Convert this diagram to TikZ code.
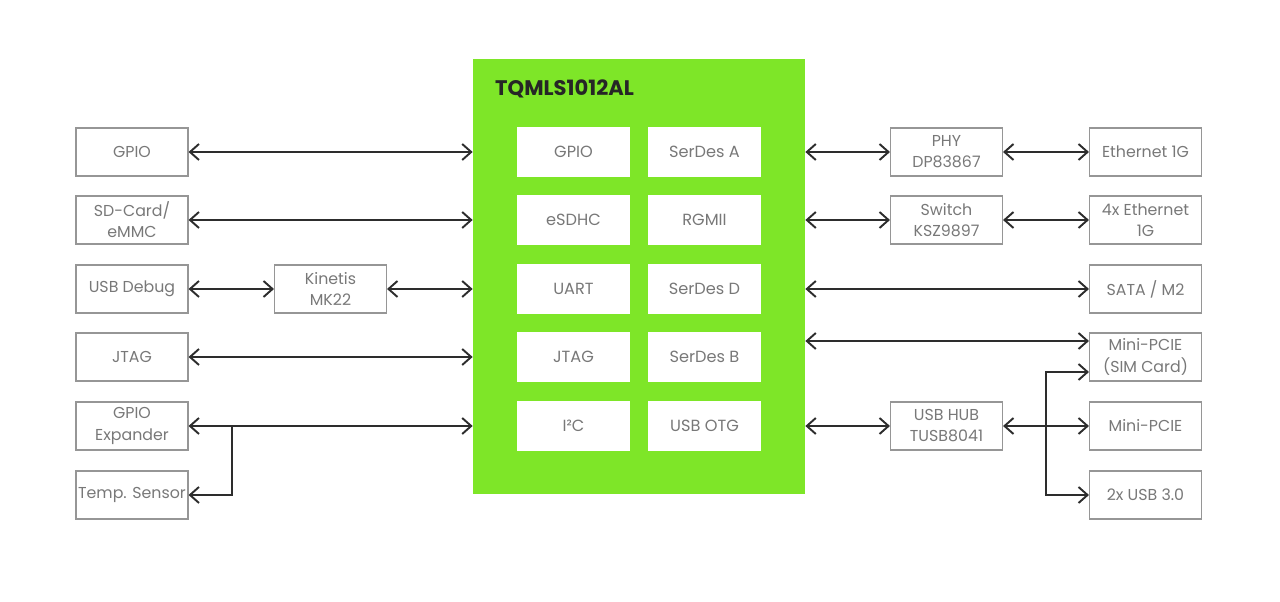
\documentclass[tikz,border=0pt]{standalone}
\usepackage{fontspec}
\setmainfont{Poppins}
\usepackage{tikz}
\usetikzlibrary{positioning, arrows.meta, calc}
\definecolor{tqgreen}{RGB}{126,230,40}
\definecolor{boxgray}{RGB}{150,150,150}
\definecolor{txtgray}{RGB}{120,120,120}
\definecolor{wire}{RGB}{45,45,45}

\begin{document}
\begin{tikzpicture}[
box/.style={rectangle, draw=boxgray, line width=0.6pt, minimum width=2.24cm, minimum height=0.96cm, align=center, text=txtgray, font=\fontsize{9}{12}\selectfont, inner sep=0pt},
inbox/.style={rectangle, fill=white, minimum width=2.26cm, minimum height=1cm, align=center, text=txtgray, font=\fontsize{9.2}{12}\selectfont},
arr/.style={{Straight Barb[length=1.8mm, width=3.2mm]}-{Straight Barb[length=1.8mm, width=3.2mm]}, line width=1.1pt, draw=wire},
tip/.style={-{Straight Barb[length=1.8mm, width=3.2mm]}, line width=1.1pt, draw=wire},
]
\useasboundingbox (0,0) rectangle (25.6,12.04);

% Processor
\node[rectangle, fill=tqgreen, minimum width=6.64cm, minimum height=8.7cm] (cpu) at (12.78,6.51) {};
\node[anchor=west, font=\fontsize{12}{14}\selectfont\bfseries, text=black!85] (title) at (9.78,10.26) {TQMLS1012AL};

% Interfaces inside
\node[inbox] (igpio) at (11.47,9.0) {GPIO};
\node[inbox] (isdhc) at (11.47,7.64) {eSDHC};
\node[inbox] (iuart) at (11.47,6.26) {UART};
\node[inbox] (ijtag) at (11.47,4.90) {JTAG};
\node[inbox] (ii2c) at (11.47,3.52) {I²C};
\node[inbox] (iserA) at (14.09,9.0) {SerDes A};
\node[inbox] (irgmii) at (14.09,7.64) {RGMII};
\node[inbox] (iserD) at (14.09,6.26) {SerDes D};
\node[inbox] (iserB) at (14.09,4.90) {SerDes B};
\node[inbox] (iotg) at (14.09,3.52) {USB OTG};

% Left side
\node[box] (gpio) at (2.64,9.0) {GPIO};
\node[box] (sdcard) at (2.64,7.64) {SD-Card/\\eMMC};
\node[box] (usbdbg) at (2.64,6.26) {USB Debug};
\node[box] (jtag) at (2.64,4.90) {JTAG};
\node[box] (expander) at (2.64,3.52) {GPIO\\Expander};
\node[box] (temp) at (2.64,2.14) {Temp. Sensor};
\node[box] (kinetis) at (6.61,6.26) {Kinetis\\MK22};

% Right side
\node[box] (phy) at (18.93,9.0) {PHY\\DP83867};
\node[box] (switch) at (18.93,7.64) {Switch\\KSZ9897};
\node[box] (hub) at (18.93,3.52) {USB HUB\\TUSB8041};
\node[box] (eth) at (22.91,9.0) {Ethernet 1G};
\node[box] (eth4) at (22.91,7.64) {4x Ethernet\\1G};
\node[box] (sata) at (22.91,6.26) {SATA / M2};
\node[box] (pciesim) at (22.91,4.90) {Mini-PCIE\\(SIM Card)};
\node[box] (pcie) at (22.91,3.52) {Mini-PCIE};
\node[box] (usb3) at (22.91,2.14) {2x USB 3.0};

% Arrows left
\draw[arr] (gpio) -- (gpio -| cpu.west);
\draw[arr] (sdcard) -- (sdcard -| cpu.west);
\draw[arr] (usbdbg) -- (kinetis);
\draw[arr] (kinetis) -- (kinetis -| cpu.west);
\draw[arr] (jtag) -- (jtag -| cpu.west);
\draw[arr] (expander) -- (expander -| cpu.west);
\coordinate (i2ctap) at (4.64,3.52);
\draw[tip] (i2ctap) |- (temp);

% Arrows right
\draw[arr] (phy -| cpu.east) -- (phy);
\draw[arr] (phy) -- (eth);
\draw[arr] (switch -| cpu.east) -- (switch);
\draw[arr] (switch) -- (eth4);
\draw[arr] (sata -| cpu.east) -- (sata);
\coordinate (simhigh) at ($(pciesim.west)+(0,0.32)$);
\coordinate (simlow) at ($(pciesim.west)+(0,-0.3)$);
\draw[arr] (simhigh -| cpu.east) -- (simhigh);
\draw[arr] (hub -| cpu.east) -- (hub);
\draw[arr] (hub) -- (pcie);
\coordinate (usbbus) at (20.92,3.52);
\draw[arr] (simlow) -| (usbbus) |- (usb3);

\end{tikzpicture}
\end{document}
